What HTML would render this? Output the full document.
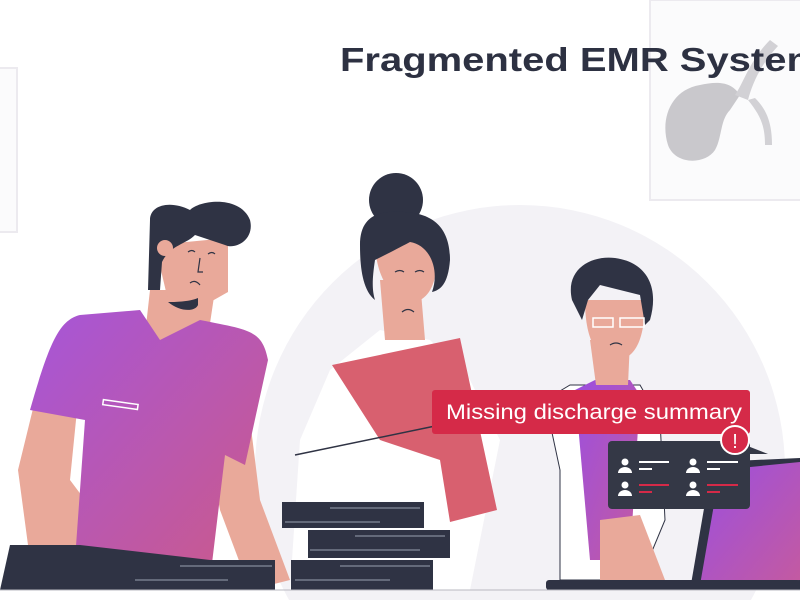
<!DOCTYPE html>
<html><head><meta charset="utf-8"><style>
html,body{margin:0;padding:0;background:#fff;width:800px;height:600px;overflow:hidden;}
svg{display:block;}
</style></head><body>
<svg width="800" height="600" viewBox="0 0 800 600" xmlns="http://www.w3.org/2000/svg" font-family="Liberation Sans, sans-serif">
<defs>
<linearGradient id="shirt" x1="0" y1="0" x2="1" y2="1">
<stop offset="0" stop-color="#a655d9"/><stop offset="1" stop-color="#cc5a88"/>
</linearGradient>
<linearGradient id="shirt2" x1="0" y1="0" x2="1" y2="1">
<stop offset="0" stop-color="#9b4fe0"/><stop offset="1" stop-color="#c45aa0"/>
</linearGradient>
</defs>
<rect width="800" height="600" fill="#fff"/>
<circle cx="520" cy="470" r="265" fill="#f3f2f6"/>
<rect x="650" y="0" width="160" height="200" fill="#fbfbfc" stroke="#eceaef" stroke-width="2"/>
<path d="M700 85 C 670 90 660 120 668 145 C 675 165 705 165 715 150 C 722 138 720 120 730 110 L 740 95 C 730 80 715 82 700 85 Z" fill="#c9c8cc"/>
<path d="M735 95 C 745 80 750 60 770 40 L 778 46 C 760 65 752 85 748 100 Z" fill="#d2d1d5"/>
<path d="M748 100 C 760 115 765 125 765 145 L 772 145 C 772 120 765 108 755 98 Z" fill="#d2d1d5"/>
<rect x="-5" y="68" width="22" height="164" fill="#fbfbfc" stroke="#eceaef" stroke-width="2"/>
<text x="340" y="71" font-size="33" font-weight="bold" fill="#2d3142" textLength="482" lengthAdjust="spacingAndGlyphs">Fragmented EMR System</text>

<!-- Person 1 -->
<path d="M150 290 L140 380 L200 390 L215 290 Z" fill="#e9a99a"/>
<path d="M18 470 L40 380 L80 380 L70 480 L130 560 L90 590 L30 560 Z" fill="#e9a99a"/>
<path d="M200 400 L250 420 L260 500 L290 580 L250 590 L220 510 Z" fill="#e9a99a"/>
<path d="M80 315 C 60 320 50 340 30 410 L85 420 L75 560 L210 580 L225 455 L245 465 L268 360 C 262 330 250 330 200 320 L160 340 L140 310 Z" fill="url(#shirt)"/>
<path d="M10 545 L80 545 L210 560 L215 590 L0 590 Z" fill="#2f3344"/>
<rect x="103" y="402" width="35" height="5" fill="none" stroke="#fff" stroke-width="1.5" transform="rotate(8 120 404)"/>
<path d="M155 245 L228 238 L228 292 L205 305 L168 300 Z" fill="#e9a99a"/>
<path d="M150 220 C 150 205 170 200 190 210 C 200 200 240 195 250 220 C 255 240 235 250 225 245 L195 235 C 185 245 170 245 162 262 L160 290 L148 290 Z" fill="#2f3344"/>
<circle cx="165" cy="248" r="8" fill="#e9a99a"/>
<path d="M168 302 C 180 312 195 312 198 305 L198 298 C 188 302 175 302 168 302 Z" fill="#2f3344"/>
<path d="M188 252 q4 -3 7 0 M208 254 q4 -3 7 0 M200 258 l-2 14 l5 0 M190 283 q5 -4 10 2" stroke="#2f3344" stroke-width="1.2" fill="none"/>

<!-- Person 2 -->
<path d="M290 590 L300 440 L330 370 L380 330 L430 340 L470 380 L500 440 L470 590 Z" fill="#fff"/>
<path d="M380 280 L420 280 L425 340 L385 340 Z" fill="#e9a99a"/>
<path d="M375 240 C 375 290 405 310 420 300 C 440 290 440 250 430 230 Z" fill="#e9a99a"/>
<circle cx="396" cy="200" r="27" fill="#2f3344"/>
<path d="M360 245 C 360 215 380 210 405 212 C 440 214 450 235 450 260 C 448 285 440 290 432 292 C 440 270 430 245 410 242 C 395 250 385 255 375 260 C 372 280 372 290 375 300 C 362 290 360 265 360 245 Z" fill="#2f3344"/>
<path d="M395 272 q5 -3 9 0 M415 272 q5 -3 9 0 M402 312 q6 -5 12 0" stroke="#2f3344" stroke-width="1.2" fill="none"/>
<path d="M332 365 L460 338 L497 510 L450 522 L440 460 L380 440 Z" fill="#d8606f"/>
<path d="M295 455 L440 425" stroke="#2f3344" stroke-width="1.5"/>
<!-- Person 3 -->
<path d="M545 400 L570 385 L640 385 L660 420 L665 520 L640 580 L560 580 L560 470 Z" fill="#fff" stroke="#2f3344" stroke-width="1"/>
<path d="M575 390 L595 380 L630 380 L640 395 L630 560 L590 560 Z" fill="url(#shirt2)"/>
<path d="M590 340 L630 340 L628 385 L596 385 Z" fill="#e9a99a"/>
<path d="M585 300 C 585 345 600 360 615 360 C 635 360 645 340 645 300 Z" fill="#e9a99a"/>
<path d="M572 300 C 565 270 590 255 615 258 C 645 262 660 285 650 320 L645 325 L640 295 L600 285 L588 300 L582 320 Z" fill="#2f3344"/>
<rect x="593" y="318" width="20" height="9" fill="none" stroke="#fff" stroke-width="1.5"/>
<rect x="620" y="318" width="24" height="9" fill="none" stroke="#fff" stroke-width="1.5"/>
<path d="M610 345 q6 -4 12 0" stroke="#2f3344" stroke-width="1.2" fill="none"/>
<path d="M600 520 L640 515 L665 580 L600 580 Z" fill="#e9a99a"/>
<!-- laptop -->
<path d="M712 462 L800 458 L800 590 L690 590 Z" fill="#2f3344"/>
<path d="M720 470 L800 462 L800 580 L700 585 Z" fill="url(#shirt2)"/>
<rect x="546" y="580" width="254" height="10" rx="3" fill="#2f3344"/>
<!-- books -->
<rect x="282" y="502" width="142" height="26" fill="#2f3344"/>
<rect x="308" y="530" width="142" height="28" fill="#2f3344"/>
<rect x="291" y="560" width="142" height="30" fill="#2f3344"/>
<rect x="131" y="560" width="144" height="30" fill="#2f3344"/>
<g stroke="#9aa0b0" stroke-width="1">
<line x1="330" y1="508" x2="420" y2="508"/><line x1="285" y1="522" x2="380" y2="522"/>
<line x1="355" y1="536" x2="445" y2="536"/><line x1="310" y1="550" x2="420" y2="550"/>
<line x1="340" y1="566" x2="430" y2="566"/><line x1="295" y1="580" x2="390" y2="580"/>
<line x1="180" y1="566" x2="272" y2="566"/><line x1="135" y1="580" x2="228" y2="580"/>
</g>
<line x1="0" y1="590" x2="800" y2="590" stroke="#b8b8c0" stroke-width="1"/>
<!-- red label -->
<rect x="432" y="390" width="318" height="44" rx="3" fill="#d52a48"/>
<text x="446" y="419" font-size="21" fill="#fff" textLength="296" lengthAdjust="spacingAndGlyphs">Missing discharge summary</text>
<!-- EMR card -->
<rect x="608" y="441" width="142" height="68" rx="4" fill="#343846"/>
<path d="M745 445 L768 454 L745 454 Z" fill="#343846"/>
<circle cx="735" cy="440" r="14" fill="#d52a48" stroke="#fff" stroke-width="2"/>
<text x="735" y="448" font-size="20" fill="#fff" text-anchor="middle">!</text>
<g fill="#fff">
<circle cx="625" cy="462" r="3.5"/><path d="M618 473 a7 6 0 0 1 14 0 Z"/>
<circle cx="693" cy="462" r="3.5"/><path d="M686 473 a7 6 0 0 1 14 0 Z"/>
<circle cx="625" cy="485" r="3.5"/><path d="M618 496 a7 6 0 0 1 14 0 Z"/>
<circle cx="693" cy="485" r="3.5"/><path d="M686 496 a7 6 0 0 1 14 0 Z"/>
</g>
<g stroke-width="2">
<line x1="639" y1="462" x2="669" y2="462" stroke="#fff"/><line x1="639" y1="469" x2="652" y2="469" stroke="#fff"/>
<line x1="707" y1="462" x2="738" y2="462" stroke="#fff"/><line x1="707" y1="469" x2="720" y2="469" stroke="#fff"/>
<line x1="639" y1="485" x2="669" y2="485" stroke="#d52a48"/><line x1="639" y1="492" x2="652" y2="492" stroke="#d52a48"/>
<line x1="707" y1="485" x2="738" y2="485" stroke="#d52a48"/><line x1="707" y1="492" x2="720" y2="492" stroke="#d52a48"/>
</g>
</svg>
</body></html>
